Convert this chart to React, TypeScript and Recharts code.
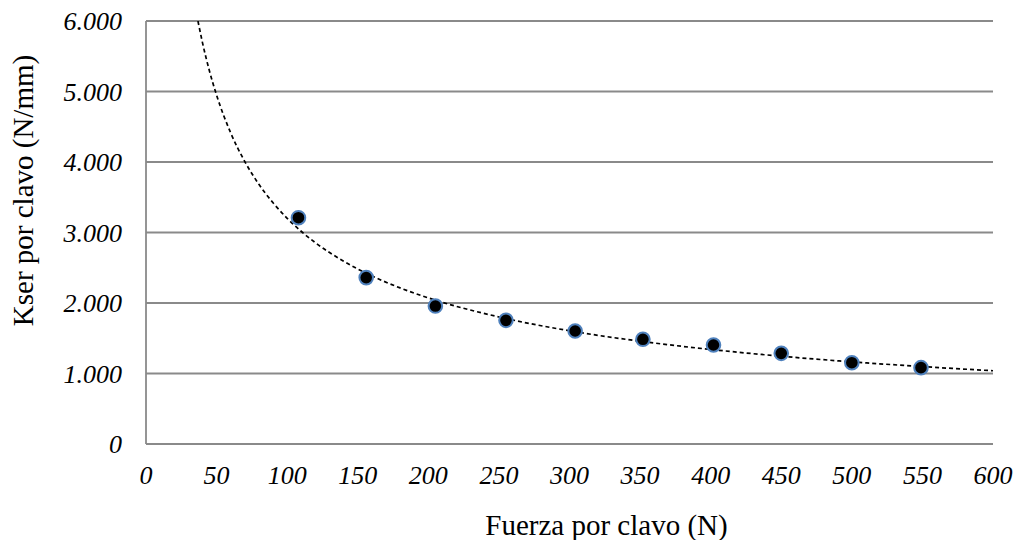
import React from 'react';
import { ComposedChart, Scatter, Line, XAxis, YAxis, CartesianGrid } from 'recharts';

const forceValues = [108, 156, 205, 255, 304, 352, 402, 450, 500, 549];
const kserValues = [3210, 2360, 1957, 1754, 1603, 1485, 1404, 1286, 1153, 1083];

const trendForce = [36.8, 40, 45, 50, 60, 70, 80, 90, 100, 120, 140, 160, 180, 200, 250, 300, 350, 400, 450, 500, 550, 600];
const trendKser = [6000, 5694, 5288, 4949, 4413, 4006, 3683, 3421, 3201, 2855, 2593, 2384, 2214, 2072, 1802, 1606, 1458, 1341, 1245, 1165, 1098, 1039];

const xTicks = [0, 50, 100, 150, 200, 250, 300, 350, 400, 450, 500, 550, 600];
const yTicks = [0, 1000, 2000, 3000, 4000, 5000, 6000];

const xTitle = 'Fuerza por clavo (N)';
const yTitle = 'Kser por clavo (N/mm)';

const points = forceValues.map((x, i) => ({ x, y: kserValues[i] }));
const trend = trendForce.map((x, i) => ({ x, y: trendKser[i] }));

const fmtY = (v: number) => (v === 0 ? '0' : (v / 1000).toFixed(3));

const serif = '"Liberation Serif", "Times New Roman", serif';
const tickStyle = { fontFamily: serif, fontStyle: 'italic', fontSize: 26, fill: '#000' };

const Dot = (props: any) => {
  const { cx, cy } = props;
  if (cx == null || cy == null) return null;
  return <circle cx={cx} cy={cy} r={6.8} fill="#000" stroke="#4f81bd" strokeWidth={2} />;
};

const XTitle = (props: any) => {
  const vb = props.viewBox || {};
  const cx = vb.x + vb.width / 2 + 37;
  return (
    <text x={cx} y={535} textAnchor="middle" style={{ fontFamily: serif, fontSize: 29, fill: '#000' }}>
      {xTitle}
    </text>
  );
};

const YTitle = (props: any) => {
  const vb = props.viewBox || {};
  const cy = vb.y + vb.height / 2 - 42;
  const x = 33;
  return (
    <text x={x} y={cy} transform={`rotate(-90 ${x} ${cy})`} textAnchor="middle" style={{ fontFamily: serif, fontSize: 29, fill: '#000' }}>
      {yTitle}
    </text>
  );
};

export default function App() {
  return (
    <div style={{ position: 'absolute', left: 0, top: 0, width: 1016, height: 540 }}>
      <ComposedChart width={1016} height={540} margin={{ top: 21, right: 23, left: 0, bottom: 0 }}>
        <CartesianGrid horizontal vertical={false} stroke="#8a8a8a" strokeWidth={1.8} />
        <XAxis
          type="number"
          dataKey="x"
          domain={[0, 600]}
          ticks={xTicks}
          interval={0}
          tickLine={false}
          tickSize={0}
          tickMargin={22}
          axisLine={{ stroke: '#8a8a8a', strokeWidth: 1.8 }}
          tick={tickStyle}
          height={96}
          allowDataOverflow
          label={<XTitle />}
        />
        <YAxis
          type="number"
          dataKey="y"
          domain={[0, 6000]}
          ticks={yTicks}
          interval={0}
          tickLine={false}
          tickSize={0}
          tickMargin={24}
          axisLine={{ stroke: '#8a8a8a', strokeWidth: 1.8 }}
          tick={tickStyle}
          tickFormatter={fmtY}
          width={146}
          allowDataOverflow
          label={<YTitle />}
        />
        <Line
          data={trend}
          dataKey="y"
          type="monotone"
          stroke="#000"
          strokeWidth={1.7}
          strokeDasharray="4 3"
          dot={false}
          activeDot={false}
          isAnimationActive={false}
        />
        <Scatter data={points} dataKey="y" shape={<Dot />} isAnimationActive={false} />
      </ComposedChart>
    </div>
  );
}
